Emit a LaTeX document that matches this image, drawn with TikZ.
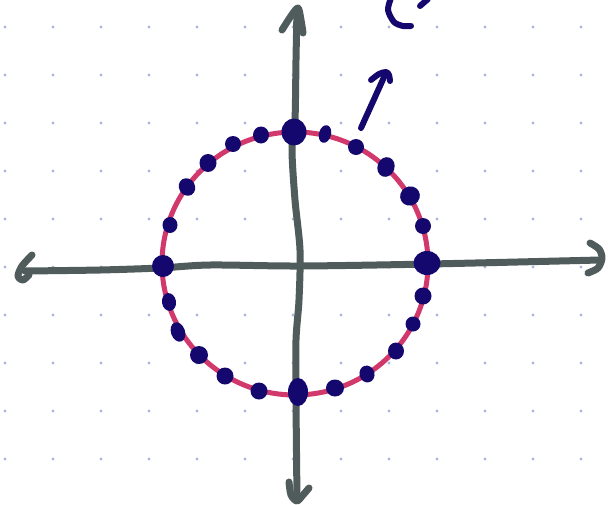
\documentclass[tikz,border=0pt]{standalone}
\begin{document}
\begin{tikzpicture}[x=1pt,y=-1pt,
  axis/.style={draw=axisgray,line width=7pt,line cap=round,line join=round},
  ink/.style={draw=inknavy,line width=6pt,line cap=round,line join=round},
  blob/.style={fill=inknavy}]
\definecolor{axisgray}{RGB}{80,91,91}
\definecolor{inknavy}{RGB}{20,8,110}
\definecolor{ringpink}{RGB}{209,56,107}
\definecolor{griddot}{RGB}{169,183,217}
\useasboundingbox[fill=white] (0,0) rectangle (608,504);
% dot grid
\foreach \i in {0,...,12}{
  \foreach \j in {0,...,9}{
    \fill[griddot] ({5+48*\i},{27+48*\j}) circle[radius=1.7];
  }
}
% circle
\coordinate (o) at (295,263.5);
\draw[ringpink,line width=5pt] (o) ellipse[x radius=133,y radius=131.5];
% horizontal axis
\coordinate (hl) at (25,271);
\coordinate (hr) at (600,260);
\draw[axis] plot[smooth] coordinates {(hl) (100,270) (160,268) (210,265) (300,266) (430,264) (hr)};
\draw[axis] plot[smooth] coordinates {(32,255) (22,266) (18,276) (23,280) (29,275)};
\draw[axis] plot[smooth] coordinates {(590,243) (599,249) (602,258) (598,268) (588,273)};
% vertical axis
\coordinate (vt) at (297,9);
\coordinate (vb) at (297,499);
\draw[axis] plot[smooth] coordinates {(vt) (296,60) (295,120) (292,150) (295,200) (300,250) (299,300) (296,340) (296,400) (vb)};
\draw[axis] plot[smooth] coordinates {(282,30) (291,16) (298,8) (301,20) (303,33)};
\draw[axis] plot[smooth] coordinates {(289,482) (291,495) (297,501) (303,495) (309,488)};
% navy blobs on circle
\foreach \x/\y/\w/\h/\r in {
 294/132/12.5/13.5/0, 325/134/6/9/-15, 356/147/8/8/0, 386/167/8.5/10/-20,
 410/196/10/9.5/30, 423/226/8/8/0, 427/263/13.5/12/0, 423/296/8.5/8.5/0,
 413/324/7.5/7.5/0, 396/351/8/8.5/0, 367/374/7.5/8.5/15, 335/388/9/8.5/0,
 298/392/10/14/0, 259/391/8.5/8.5/0, 225/376/8.5/8.5/0, 199/355/9/9/0,
 178/332/7/10/20, 169/302/7/9/10, 163/266/11/11/0, 170/225/7.5/8/0,
 187/187/8/9/30, 208/163/8.5/9/0, 233/144/8/8/0, 261/135/8/8.5/0}{
  \fill[inknavy,rotate around={\r:(\x,\y)}] (\x,\y) ellipse[x radius=\w,y radius=\h];
}
% small navy arrow
\coordinate (na) at (361,128);
\coordinate (nb) at (385,75);
\draw[ink] (na) -- (nb);
\draw[ink] plot[smooth] coordinates {(371,80) (379,74) (386,72) (389,75) (390,81)};
% partial bracket at top
\draw[ink] plot[smooth] coordinates {(391,-2) (388,10) (394,22) (403,26) (411,26)};
\draw[ink] (420,6) -- (428,-1);
\end{tikzpicture}
\end{document}
